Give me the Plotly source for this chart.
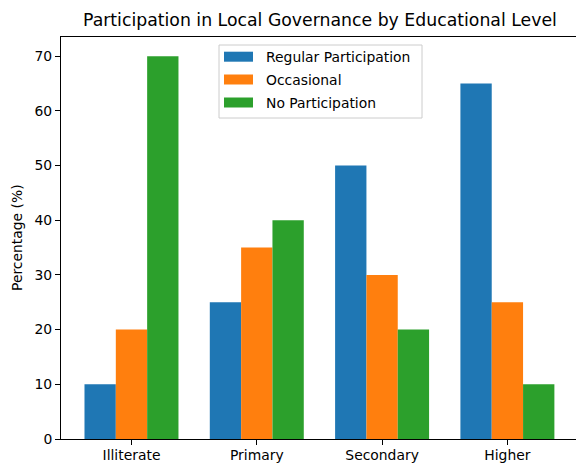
import plotly.graph_objects as go

categories = ["Illiterate", "Primary", "Secondary", "Higher"]
series_names = ["Regular Participation", "Occasional", "No Participation"]
regular = [10, 25, 50, 65]
occasional = [20, 35, 30, 25]
no_part = [70, 40, 20, 10]
series_values = [regular, occasional, no_part]
colors = ["#1f77b4", "#ff7f0e", "#2ca02c"]
y_ticks = [0, 10, 20, 30, 40, 50, 60, 70]

W, H = 576, 464
L, T, B, R = 61, 37, 25, 0
PW = W - L - R
PH = H - T - B

def px(x):
    return (x - L) / PW

def py(y):
    return (H - B - y) / PH

fig = go.Figure()
for name, vals, c in zip(series_names, series_values, colors):
    fig.add_trace(go.Bar(x=list(range(len(categories))), y=vals, name=name,
                         marker=dict(color=c, line=dict(width=0)), showlegend=False))

font = "DejaVu Sans"
fig.update_layout(
    width=W, height=H, template=None,
    margin=dict(l=L, r=R, t=T, b=B, pad=0),
    paper_bgcolor="white", plot_bgcolor="white",
    barmode="group", bargap=0.25, bargroupgap=0,
    font=dict(family=font, size=13.9, color="black"),
    xaxis=dict(range=[-0.5625, 3.5475], tickmode="array",
               tickvals=list(range(len(categories))), ticktext=categories,
               ticks="outside", ticklen=5, tickwidth=1, tickcolor="black",
               ticklabelstandoff=-2,
               showline=True, linecolor="black", linewidth=1, mirror=True,
               showgrid=False, zeroline=False,
               tickfont=dict(family=font, size=13.9, color="black")),
    yaxis=dict(range=[0, 73.5], tickmode="array", tickvals=y_ticks,
               ticks="outside", ticklen=5, tickwidth=1, tickcolor="black",
               showline=True, linecolor="black", linewidth=1, mirror=False,
               showgrid=False, zeroline=False,
               tickfont=dict(family=font, size=13.9, color="black")),
)

annotations = [
    dict(text="Participation in Local Governance by Educational Level",
         xref="paper", yref="paper", x=px(319.5), y=py(32), xanchor="center",
         yanchor="bottom", showarrow=False,
         font=dict(family=font, size=17.3, color="black")),
    dict(text="Percentage (%)", xref="paper", yref="paper", x=px(17), y=py(238),
         xanchor="center", yanchor="middle", textangle=-90, showarrow=False,
         font=dict(family=font, size=13.9, color="black")),
]
shapes = [
    dict(type="rect", xref="paper", yref="paper", x0=px(219), x1=px(422),
         y0=py(118), y1=py(45), line=dict(color="#cccccc", width=1),
         fillcolor="rgba(255,255,255,0.8)", layer="above"),
]
row_y = [56.7, 79.5, 102.5]
for name, c, ry in zip(series_names, colors, row_y):
    shapes.append(dict(type="rect", xref="paper", yref="paper", x0=px(224), x1=px(253),
                       y0=py(ry + 5), y1=py(ry - 5), line=dict(width=0), fillcolor=c,
                       layer="above"))
    annotations.append(dict(text=name, xref="paper", yref="paper", x=px(264), y=py(ry),
                            xanchor="left", yanchor="middle", showarrow=False,
                            font=dict(family=font, size=13.9, color="black")))
fig.update_layout(annotations=annotations, shapes=shapes)
fig.write_html("out.html", config={"displayModeBar": False},
               post_script="document.body.style.margin='0';document.body.style.overflow='hidden';")
